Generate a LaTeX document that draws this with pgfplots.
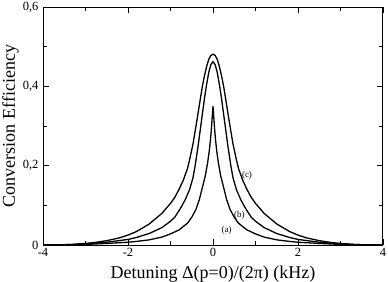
\documentclass[border=0pt]{standalone}
\usepackage{fontspec}
\setmainfont{Liberation Serif}
\usepackage{pgfplots}
\pgfplotsset{compat=1.18}
\begin{document}
\begin{tikzpicture}[x=1pt,y=1pt]
\useasboundingbox (0,0) rectangle (388,281);
\begin{axis}[at={(43pt,36pt)}, anchor=south west, scale only axis,
  width=340pt, height=238pt,
  xmin=-4, xmax=4, ymin=0, ymax=0.6,
  xtick={-4,-2,0,2,4}, xticklabels={-4,-2,0,2,4},
  ytick={0,0.2,0.4,0.6}, yticklabels={0,{0,2},{0,4},{0,6}},
  minor xtick={-3,-1,1,3}, minor ytick={0.1,0.3,0.5},
  tick align=inside, major tick length=6pt, minor tick length=4pt,
  every tick/.style={black, line width=0.8pt},
  axis line style={line width=1pt},
  tick label style={font=\fontsize{12.5}{14}\selectfont},
  yticklabel style={xshift=-1pt},
  label style={font=\fontsize{18}{20}\selectfont},
  xlabel={Detuning Δ(p=0)/(2π) (kHz)},
  ylabel={Conversion Efficiency},
  xlabel style={at={(axis description cs:0.5,-0.1387)}, anchor=base},
  ylabel style={at={(axis description cs:-0.0824,0.5)}, anchor=base},
  clip=true,
]
% (c)
\addplot[black, no markers, line width=1.3pt] coordinates {(-4,0) (-3.6,0.0003) (-3.3,0.0015) (-3,0.004) (-2.8,0.006) (-2.5,0.011) (-2.2,0.018) (-2,0.025) (-1.8,0.034) (-1.5,0.053) (-1.2,0.08) (-1,0.105) (-0.9,0.12) (-0.8,0.14) (-0.7,0.163) (-0.6,0.193) (-0.55,0.215) (-0.47,0.255) (-0.4,0.3) (-0.35,0.333) (-0.3,0.367) (-0.25,0.4) (-0.2,0.427) (-0.15,0.45) (-0.1,0.468) (-0.05,0.478) (0,0.481)
(0.05,0.478) (0.1,0.468) (0.15,0.45) (0.2,0.427) (0.25,0.4) (0.3,0.367) (0.35,0.333) (0.4,0.3) (0.47,0.255) (0.55,0.215) (0.6,0.193) (0.7,0.163) (0.8,0.14) (0.9,0.12) (1,0.105) (1.2,0.08) (1.5,0.053) (1.8,0.034) (2,0.025) (2.2,0.018) (2.5,0.011) (2.8,0.006) (3,0.004) (3.3,0.0015) (3.6,0.0003) (4,0)};
% (b)
\addplot[black, no markers, line width=1.3pt] coordinates {(-4,0) (-3.4,0.001) (-3,0.003) (-2.5,0.007) (-2,0.014) (-1.8,0.019) (-1.5,0.029) (-1.2,0.044) (-1,0.06) (-0.9,0.07) (-0.75,0.095) (-0.65,0.115) (-0.55,0.14) (-0.47,0.17) (-0.42,0.2) (-0.35,0.25) (-0.3,0.29) (-0.25,0.33) (-0.2,0.37) (-0.15,0.405) (-0.1,0.435) (-0.05,0.455) (0,0.462)
(0.05,0.455) (0.1,0.435) (0.15,0.405) (0.2,0.37) (0.25,0.33) (0.3,0.29) (0.35,0.25) (0.42,0.2) (0.47,0.17) (0.55,0.14) (0.65,0.115) (0.75,0.095) (0.9,0.07) (1,0.06) (1.2,0.044) (1.5,0.029) (1.8,0.019) (2,0.014) (2.5,0.007) (3,0.003) (3.4,0.001) (4,0)};
% (a)
\addplot[black, no markers, line width=1.3pt] coordinates {(-4,0) (-3.5,0) (-3,0.0015) (-2.5,0.004) (-2,0.007) (-1.8,0.009) (-1.5,0.013) (-1.2,0.02) (-1,0.028) (-0.8,0.038) (-0.6,0.055) (-0.5,0.07) (-0.4,0.09) (-0.32,0.115) (-0.25,0.145) (-0.18,0.175) (-0.13,0.205) (-0.09,0.235) (-0.06,0.265) (-0.04,0.29) (-0.02,0.32) (0,0.35)
(0.02,0.32) (0.04,0.29) (0.06,0.265) (0.09,0.235) (0.13,0.205) (0.18,0.175) (0.25,0.145) (0.32,0.115) (0.4,0.09) (0.5,0.07) (0.6,0.055) (0.8,0.038) (1,0.028) (1.2,0.02) (1.5,0.013) (1.8,0.009) (2,0.007) (2.5,0.004) (3,0.0015) (3.5,0) (4,0)};
\node[font=\fontsize{9}{10}\selectfont] at (axis cs:0.80,0.176) {(c)};
\node[font=\fontsize{9}{10}\selectfont] at (axis cs:0.62,0.076) {(b)};
\node[font=\fontsize{9}{10}\selectfont] at (axis cs:0.32,0.038) {(a)};
\end{axis}
\end{tikzpicture}
\end{document}
